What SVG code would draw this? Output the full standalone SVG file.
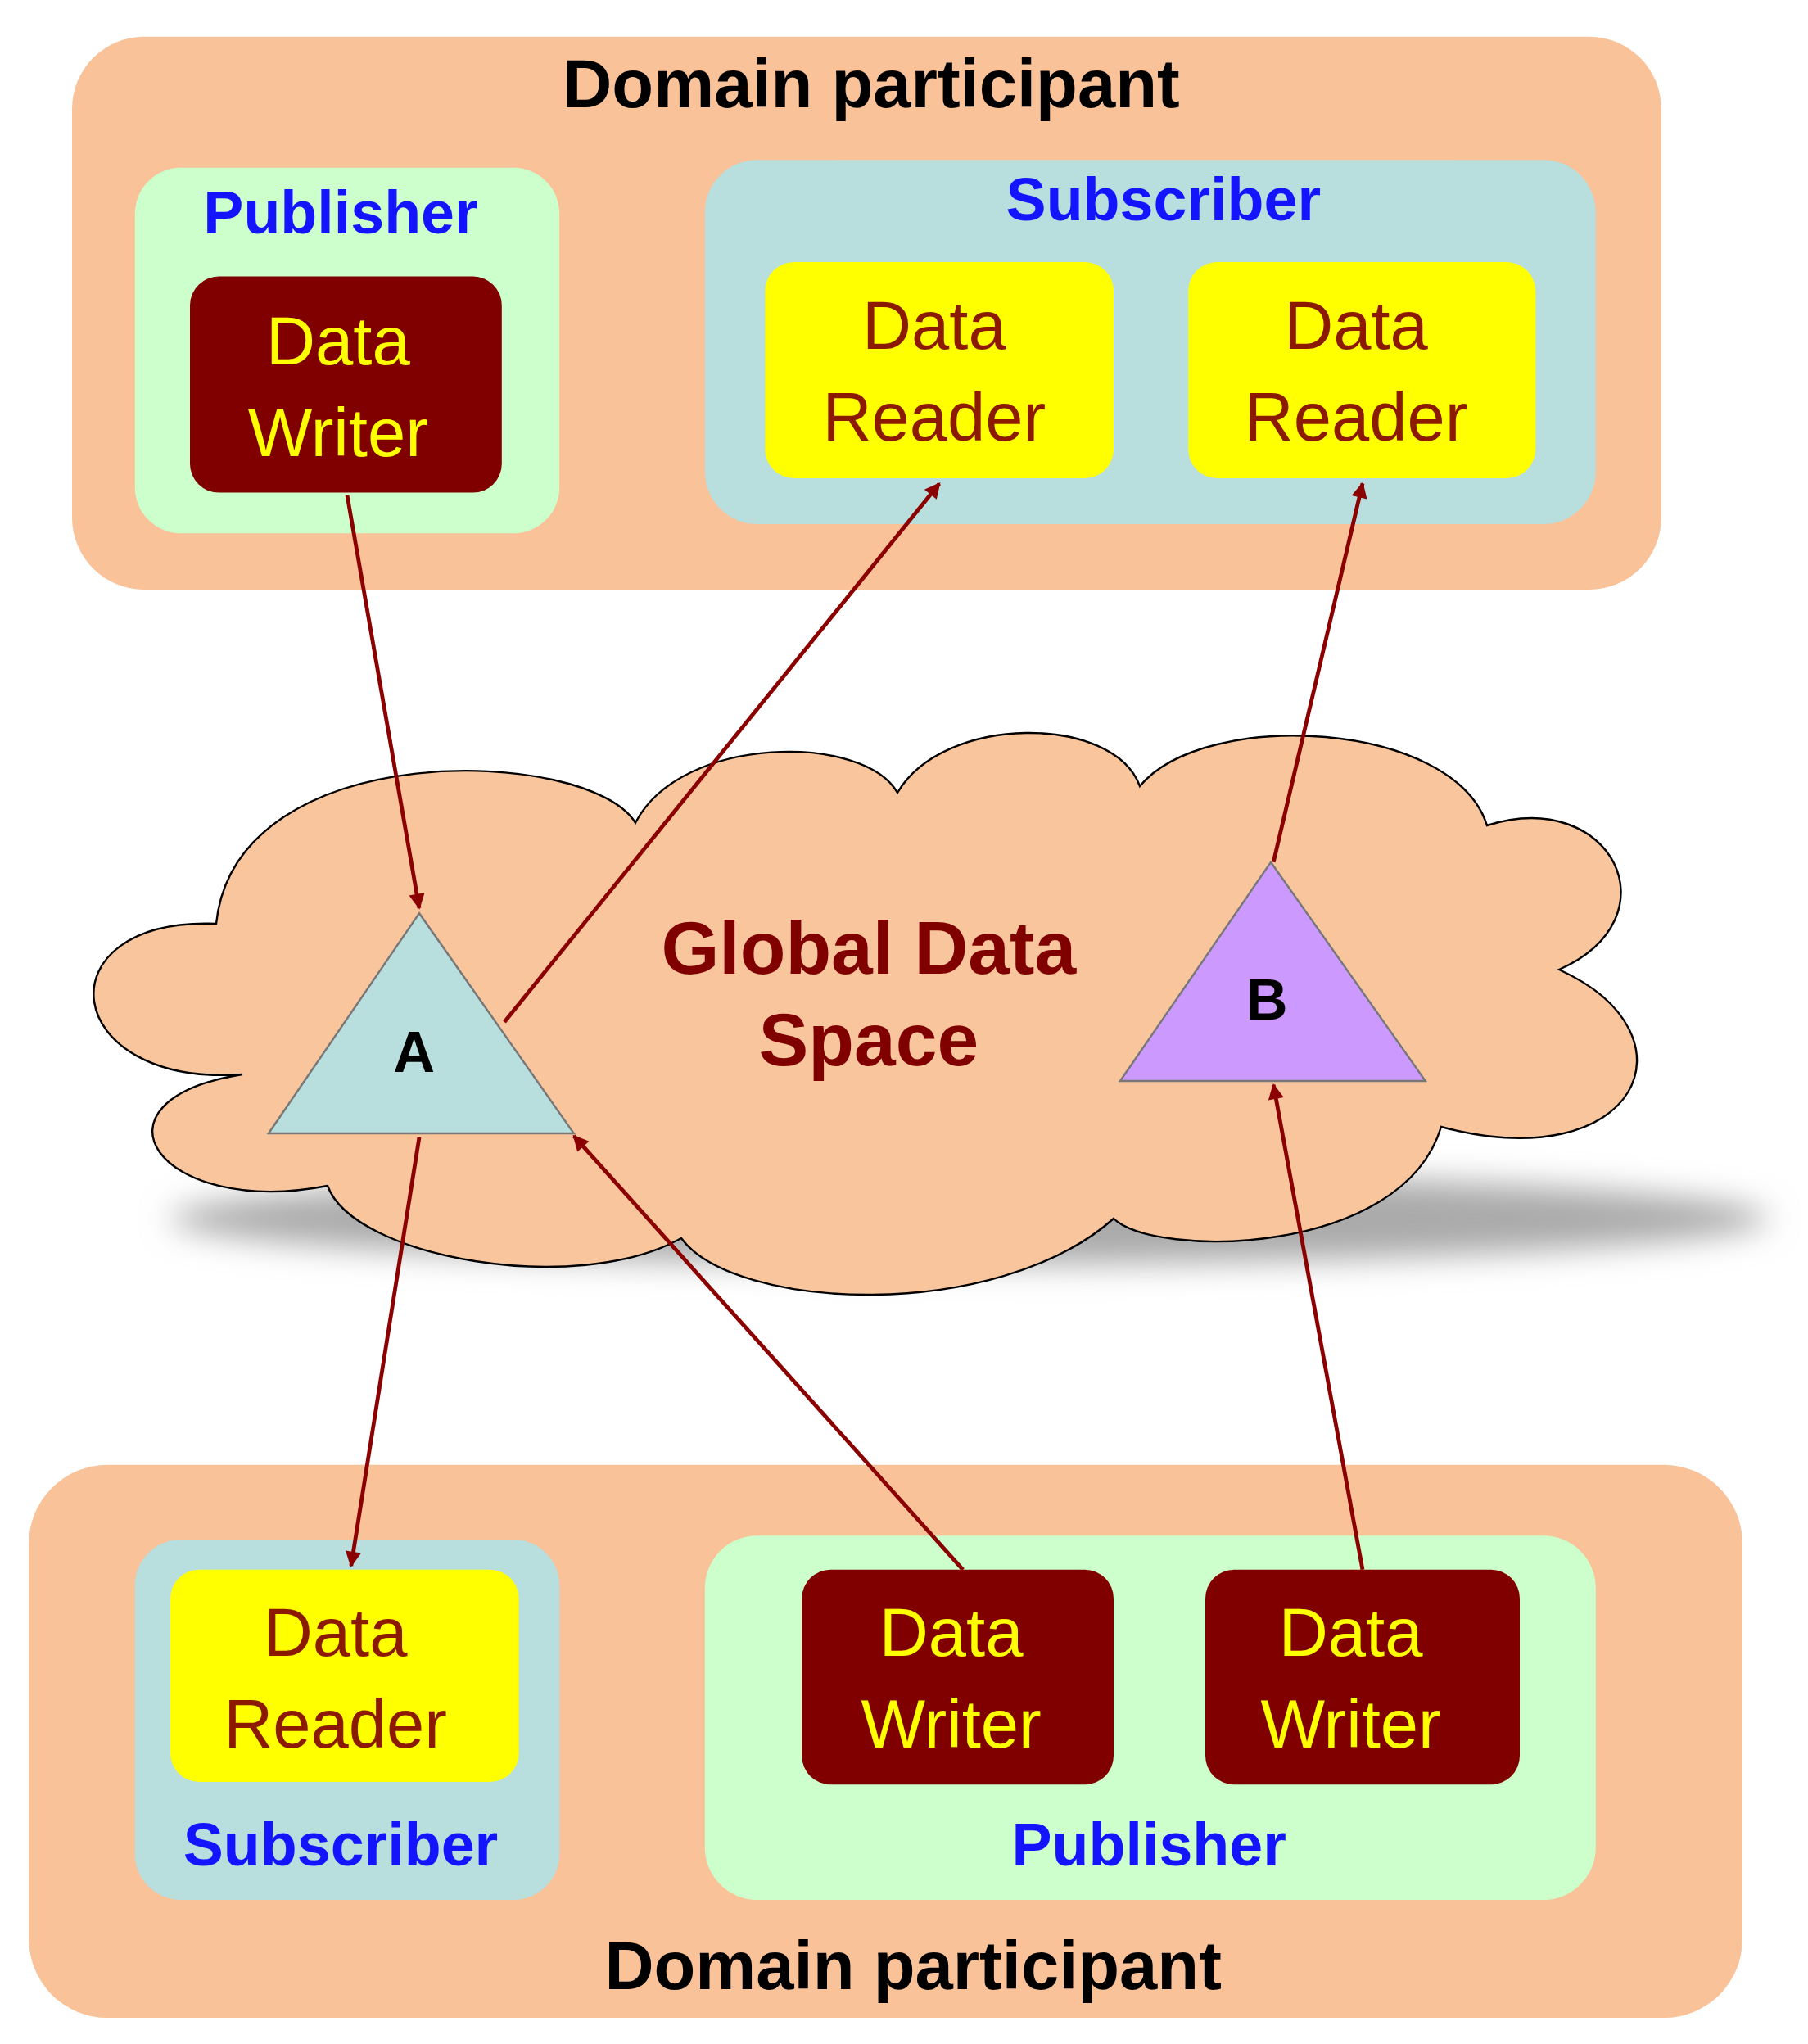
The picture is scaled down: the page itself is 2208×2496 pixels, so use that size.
<svg xmlns="http://www.w3.org/2000/svg" width="2208" height="2496" viewBox="0 0 2208 2496">
<style>
.dp{fill:#f9c298}
.pub{fill:#ccffcc}
.sub{fill:#b8dede}
.wr{fill:#800000}
.rd{fill:#ffff00}
.ttl{font-family:"Liberation Sans",Arial,sans-serif;font-weight:bold;font-size:52px;fill:#000;text-anchor:middle}
.lbl{font-family:"Liberation Sans",Arial,sans-serif;font-weight:bold;font-size:46px;fill:#1414ff;text-anchor:middle}
.wt{font-family:"Liberation Sans",Arial,sans-serif;font-size:52px;fill:#ffff00;text-anchor:middle}
.rt{font-family:"Liberation Sans",Arial,sans-serif;font-size:52px;fill:#8b1a00;text-anchor:middle}
.con{stroke:#8b0000;stroke-width:3;fill:none;marker-end:url(#ah)}
</style>
<defs>
<marker id="ah" viewBox="0 0 10 10" refX="9" refY="5" markerWidth="5" markerHeight="4" orient="auto" markerUnits="strokeWidth"><path d="M0,0 L10,5 L0,10 Z" fill="#8b0000"/></marker>
<filter id="bl" x="-20%" y="-50%" width="140%" height="200%"><feGaussianBlur stdDeviation="12"/></filter>
</defs>
<rect width="2208" height="2496" fill="#fff"/>
<g transform="scale(1.6)">
<g id="top-participant">
<rect class="dp" x="55" y="28" width="1213" height="422" rx="55"/>
<text class="ttl" x="665" y="82">Domain participant</text>
<g id="top-publisher"><rect class="pub" x="103" y="128" width="324" height="279" rx="35"/><text class="lbl" x="260" y="178">Publisher</text></g>
<g id="top-writer"><rect class="wr" x="145" y="211" width="238" height="165" rx="22"/><text class="wt" x="258" y="278">Data</text><text class="wt" x="258" y="348">Writer</text></g>
<g id="top-subscriber"><rect class="sub" x="538" y="122" width="680" height="278" rx="40"/><text class="lbl" x="888" y="168">Subscriber</text></g>
<g id="top-reader1"><rect class="rd" x="584" y="200" width="266" height="165" rx="22"/><text class="rt" x="713" y="266">Data</text><text class="rt" x="713" y="336">Reader</text></g>
<g id="top-reader2"><rect class="rd" x="907" y="200" width="265" height="165" rx="22"/><text class="rt" x="1035" y="266">Data</text><text class="rt" x="1035" y="336">Reader</text></g>
</g>
<g id="cloud">
<ellipse cx="740" cy="930" rx="610" ry="35" fill="#aaaaaa" filter="url(#bl)"/>
<path d="M185,820 C45,830 30,700 165,705 C180,560 450,570 485,628 C520,560 660,560 685,605 C720,545 850,545 870,600 C920,540 1110,550 1135,630 C1230,600 1280,700 1190,740 C1300,790 1250,900 1100,860 C1070,960 880,960 850,930 C760,1010 560,1000 520,945 C440,990 270,960 250,905 C120,930 60,840 185,820 Z" fill="#f9c59c" stroke="#000" stroke-width="1.5"/>
<text x="663" y="743" font-family="Liberation Sans,Arial,sans-serif" font-weight="bold" font-size="57" fill="#800000" text-anchor="middle">Global Data</text>
<text x="663" y="813" font-family="Liberation Sans,Arial,sans-serif" font-weight="bold" font-size="57" fill="#800000" text-anchor="middle">Space</text>
</g>
<g id="topic-A"><polygon points="205,865 320,697 438,865" fill="#b8dede" stroke="#777" stroke-width="1.5"/><text x="316" y="818" font-family="Liberation Sans,Arial,sans-serif" font-weight="bold" font-size="44" text-anchor="middle">A</text></g>
<g id="topic-B"><polygon points="855,825 970,658 1088,825" fill="#cc99ff" stroke="#777" stroke-width="1.5"/><text x="967" y="778" font-family="Liberation Sans,Arial,sans-serif" font-weight="bold" font-size="44" text-anchor="middle">B</text></g>
<g id="bottom-participant">
<rect class="dp" x="22" y="1118" width="1308" height="422" rx="60"/>
<text class="ttl" x="697" y="1518">Domain participant</text>
<g id="bottom-subscriber"><rect class="sub" x="103" y="1175" width="324" height="275" rx="35"/><text class="lbl" x="260" y="1424">Subscriber</text></g>
<g id="bottom-reader"><rect class="rd" x="130" y="1198" width="266" height="162" rx="22"/><text class="rt" x="256" y="1264">Data</text><text class="rt" x="256" y="1334">Reader</text></g>
<g id="bottom-publisher"><rect class="pub" x="538" y="1172" width="680" height="278" rx="40"/><text class="lbl" x="877" y="1424">Publisher</text></g>
<g id="bottom-writer1"><rect class="wr" x="612" y="1198" width="238" height="164" rx="22"/><text class="wt" x="726" y="1264">Data</text><text class="wt" x="726" y="1334">Writer</text></g>
<g id="bottom-writer2"><rect class="wr" x="920" y="1198" width="240" height="164" rx="22"/><text class="wt" x="1031" y="1264">Data</text><text class="wt" x="1031" y="1334">Writer</text></g>
</g>
<g id="connectors">
<line class="con" x1="265" y1="378" x2="320" y2="693"/>
<line class="con" x1="385" y1="780" x2="717" y2="369"/>
<line class="con" x1="972" y1="658" x2="1040" y2="369"/>
<line class="con" x1="320" y1="868" x2="268" y2="1195"/>
<line class="con" x1="735" y1="1198" x2="438" y2="867"/>
<line class="con" x1="1040" y1="1198" x2="972" y2="828"/>
</g>
</g>
</svg>
